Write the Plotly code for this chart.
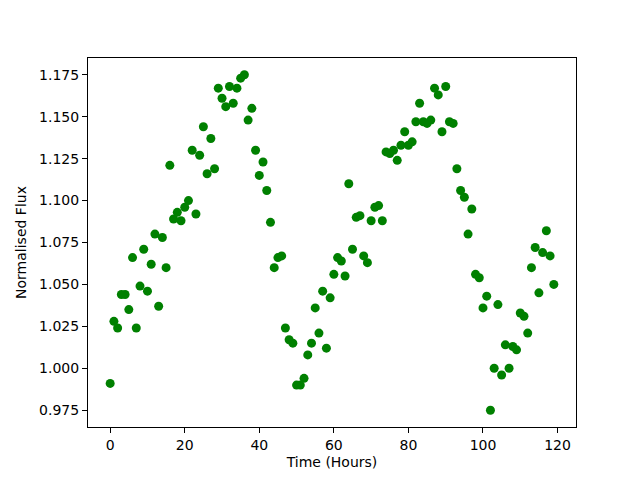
import plotly.graph_objects as go

time_hours = list(range(120))
flux = [
    0.991, 1.028, 1.024, 1.044, 1.044, 1.035, 1.066, 1.024, 1.049, 1.071,
    1.046, 1.062, 1.080, 1.037, 1.078, 1.060, 1.121, 1.089, 1.093, 1.088,
    1.096, 1.100, 1.130, 1.092, 1.127, 1.144, 1.116, 1.137, 1.119, 1.167,
    1.161, 1.156, 1.168, 1.158, 1.167, 1.173, 1.175, 1.148, 1.155, 1.130,
    1.115, 1.123, 1.106, 1.087, 1.060, 1.066, 1.067, 1.024, 1.017, 1.015,
    0.990, 0.990, 0.994, 1.008, 1.015, 1.036, 1.021, 1.046, 1.012, 1.042,
    1.056, 1.066, 1.064, 1.055, 1.110, 1.071, 1.090, 1.091, 1.067, 1.063,
    1.088, 1.096, 1.097, 1.088, 1.129, 1.128, 1.130, 1.124, 1.133, 1.141,
    1.133, 1.135, 1.147, 1.158, 1.147, 1.146, 1.148, 1.167, 1.163, 1.141,
    1.168, 1.147, 1.146, 1.119, 1.106, 1.102, 1.080, 1.095, 1.056, 1.054,
    1.036, 1.043, 0.975, 1.000, 1.038, 0.996, 1.014, 1.000, 1.013, 1.011,
    1.033, 1.031, 1.021, 1.060, 1.072, 1.045, 1.069, 1.082, 1.067, 1.050,
]
x_ticks = [0, 20, 40, 60, 80, 100, 120]
y_ticks = [0.975, 1.000, 1.025, 1.050, 1.075, 1.100, 1.125, 1.150, 1.175]

xmin, xmax = min(time_hours), max(time_hours)
ymin, ymax = min(flux), max(flux)
xpad = (xmax - xmin) * 0.05
ypad = (ymax - ymin) * 0.05

fig = go.Figure()
fig.add_trace(go.Scatter(
    x=time_hours, y=flux, mode="markers",
    marker=dict(color="#008000", size=9, line=dict(width=0)),
))

axis_common = dict(
    showline=True, linecolor="black", linewidth=1, mirror=True,
    ticks="outside", ticklen=5, tickwidth=1, tickcolor="black",
    showgrid=False, zeroline=False,
    tickfont=dict(family="DejaVu Sans", size=14, color="black"),
)

fig.update_layout(
    width=632, height=472,
    margin=dict(l=72, r=64, t=50, b=53),
    paper_bgcolor="white", plot_bgcolor="white",
    showlegend=False,
    font=dict(family="DejaVu Sans", size=14, color="black"),
    xaxis=dict(
        range=[xmin - xpad, xmax + xpad],
        tickvals=x_ticks,
        ticktext=[str(v) for v in x_ticks],
        title=dict(text="Time (Hours)", standoff=5,
                   font=dict(family="DejaVu Sans", size=14)),
        **axis_common,
    ),
    yaxis=dict(
        range=[ymin - ypad, ymax + ypad],
        tickvals=y_ticks,
        ticktext=[f"{v:.3f}" for v in y_ticks],
        title=dict(text="Normalised Flux", standoff=9,
                   font=dict(family="DejaVu Sans", size=14)),
        **axis_common,
    ),
)

fig.write_html("out.html")
